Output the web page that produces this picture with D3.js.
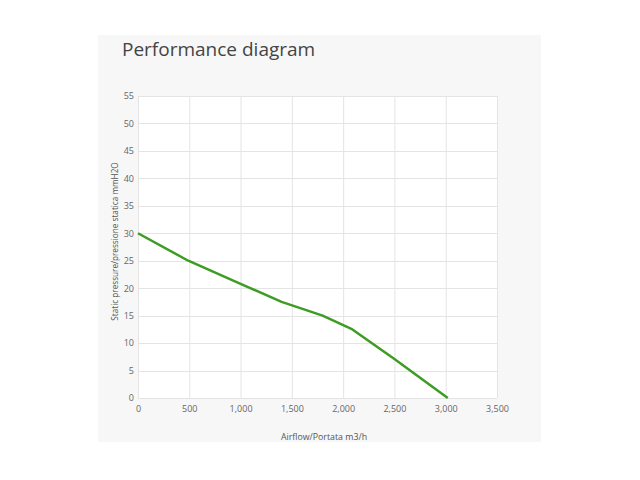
<!DOCTYPE html>
<html lang="en">
<head>
  <meta charset="UTF-8">
  <title>Performance diagram</title>
  <script src="https://d3js.org/d3.v7.min.js"></script>
  <style>
    body { margin: 0; background: #fff; font-family: "Open Sans", sans-serif; }
    .grid line { stroke: #e4e4e4; stroke-width: 1; }
    .tick text { fill: #666; font-size: 9px; }
    .axis-title { fill: #555; }
    .title { fill: #444; font-size: 19px; }
  </style>
</head>
<body>
  <div id="chart"></div>
  <script>
    // Airflow (m3/h) vs static pressure (mmH2O)
    const airflow  = [0, 490, 1000, 1400, 1800, 2080, 2500, 3020];
    const pressure = [30, 25, 20.8, 17.5, 15, 12.6, 7.1, 0];
    const xTicks = [0, 500, 1000, 1500, 2000, 2500, 3000, 3500];
    const yTicks = [0, 5, 10, 15, 20, 25, 30, 35, 40, 45, 50, 55];

    const W = 640, H = 480;
    const plot = { left: 138, right: 497, top: 96, bottom: 398 };

    const svg = d3.select("#chart").append("svg")
      .attr("width", W).attr("height", H);

    // gray panel behind everything
    svg.append("rect")
      .attr("x", 98).attr("y", 35).attr("width", 443).attr("height", 407)
      .attr("fill", "#f7f7f7");

    svg.append("rect")
      .attr("x", plot.left).attr("y", plot.top)
      .attr("width", plot.right - plot.left).attr("height", plot.bottom - plot.top)
      .attr("fill", "#fff");

    svg.append("text").attr("class", "title")
      .attr("x", 122).attr("y", 56)
      .text("Performance diagram");

    const x = d3.scaleLinear().domain([0, 3500]).range([plot.left, plot.right]);
    const y = d3.scaleLinear().domain([0, 55]).range([plot.bottom, plot.top]);

    // gridlines
    const grid = svg.append("g").attr("class", "grid");
    grid.selectAll(".v").data(xTicks).enter().append("line")
      .attr("x1", d => x(d) + 0.5).attr("x2", d => x(d) + 0.5)
      .attr("y1", plot.top).attr("y2", plot.bottom);
    grid.selectAll(".h").data(yTicks).enter().append("line")
      .attr("y1", d => Math.round(y(d)) + 0.5).attr("y2", d => Math.round(y(d)) + 0.5)
      .attr("x1", plot.left).attr("x2", plot.right);

    // axes (labels only)
    const fmt = d3.format(",");
    const xAxis = svg.append("g")
      .attr("transform", `translate(0,${plot.bottom})`)
      .call(d3.axisBottom(x).tickValues(xTicks).tickFormat(fmt).tickSize(0).tickPadding(8));
    xAxis.select(".domain").remove();

    const yAxis = svg.append("g")
      .attr("transform", `translate(${plot.left},0)`)
      .call(d3.axisLeft(y).tickValues(yTicks).tickSize(0).tickPadding(4));
    yAxis.select(".domain").remove();
    svg.selectAll(".tick text").style("font-family", "'Open Sans', sans-serif");

    svg.append("text").attr("class", "axis-title")
      .attr("x", 324).attr("y", 440)
      .attr("text-anchor", "middle")
      .style("font-size", "8.8px")
      .text("Airflow/Portata m3/h");

    svg.append("text").attr("class", "axis-title")
      .attr("transform", `translate(118,241.5) rotate(-90)`)
      .attr("text-anchor", "middle")
      .style("font-size", "8.2px")
      .text("Static pressure/pressione statica mmH2O");

    // curve
    const pts = airflow.map((a, i) => [a, pressure[i]]);
    svg.append("path")
      .datum(pts)
      .attr("fill", "none")
      .attr("stroke", "#3d9c23")
      .attr("stroke-width", 2.5)
      .attr("stroke-linejoin", "round")
      .attr("d", d3.line().x(d => x(d[0])).y(d => y(d[1])));
  </script>
</body>
</html>
